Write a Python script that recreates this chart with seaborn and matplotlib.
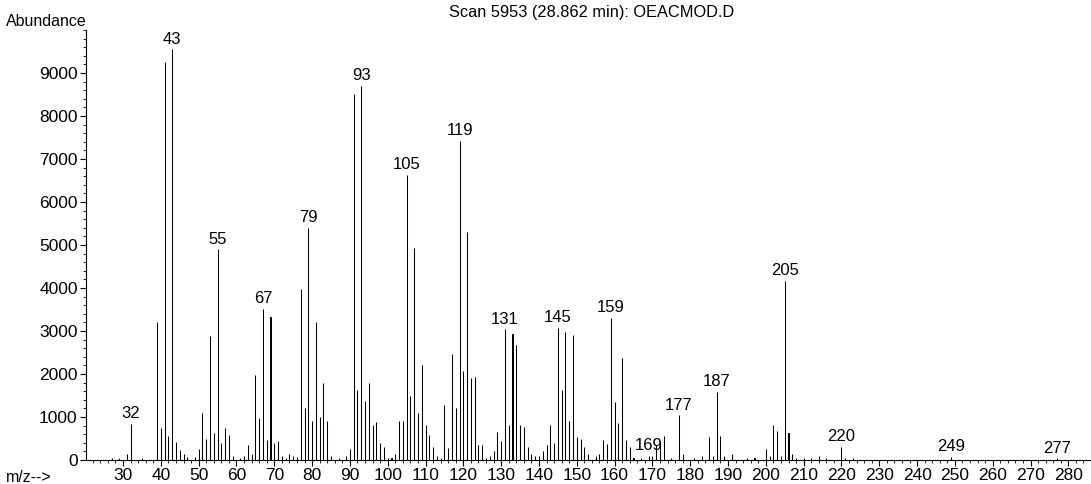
import matplotlib
matplotlib.use("Agg")
import matplotlib.pyplot as plt
from matplotlib.ticker import MultipleLocator
import seaborn as sns
import pandas as pd

# ---- data ----
mz = [27, 29, 31, 32, 35, 39, 40, 41, 42, 43, 44, 45, 46, 47, 49, 50, 51, 52, 53, 54,
      55, 56, 57, 58, 59, 61, 62, 63, 64, 65, 66, 67, 68, 69, 70, 71, 72, 73, 74, 75,
      76, 77, 78, 79, 80, 81, 82, 83, 84, 85, 87, 89, 90, 91, 92, 93, 94, 95, 96, 97,
      98, 99, 100, 101, 102, 103, 104, 105, 106, 107, 108, 109, 110, 111, 112, 113, 114, 115, 116, 117,
      118, 119, 120, 121, 122, 123, 124, 125, 126, 127, 128, 129, 130, 131, 132, 133, 134, 135, 136, 137,
      138, 139, 140, 141, 142, 143, 144, 145, 146, 147, 148, 149, 150, 151, 152, 153, 155, 156, 157, 158,
      159, 160, 161, 162, 163, 164, 165, 167, 169, 170, 171, 172, 173, 175, 177, 178, 181, 183, 185, 186,
      187, 188, 189, 191, 195, 197, 200, 201, 202, 203, 204, 205, 206, 207, 208, 210, 212, 214, 216, 220,
      221, 223, 249, 277]
abundance = [50, 40, 150, 840, 40, 3200, 750, 9250, 560, 9550, 420, 240, 150, 60, 60, 250, 1100, 500, 2880, 630,
             4900, 400, 750, 580, 100, 50, 100, 350, 150, 1980, 980, 3510, 460, 3330, 400, 450, 100, 50, 130, 100,
             60, 3970, 1200, 5400, 900, 3200, 1000, 1800, 900, 100, 50, 100, 250, 8500, 1630, 8700, 1370, 1800, 810, 880,
             400, 300, 50, 50, 150, 900, 900, 6630, 1500, 4930, 1100, 2200, 810, 580, 300, 100, 50, 1280, 290, 2460,
             1200, 7420, 2070, 5300, 1900, 1930, 350, 350, 50, 100, 200, 650, 450, 3040, 810, 2930, 2670, 810, 760, 310,
             150, 100, 100, 200, 350, 810, 400, 3070, 1630, 2980, 900, 2900, 530, 500, 300, 150, 100, 130, 460, 370,
             3300, 1350, 850, 2370, 470, 300, 50, 50, 100, 100, 350, 350, 560, 50, 1040, 150, 50, 100, 530, 100,
             1590, 560, 100, 150, 50, 50, 250, 100, 810, 670, 100, 4160, 630, 150, 50, 50, 50, 100, 50, 300,
             50, 50, 80, 40]
labelled_peaks = [32, 43, 55, 67, 79, 93, 105, 119, 131, 145, 159, 169, 177, 187, 205, 220, 249, 277]
y_ticks = [0, 1000, 2000, 3000, 4000, 5000, 6000, 7000, 8000, 9000]
x_ticks = list(range(30, 281, 10))
title_text = "Scan 5953 (28.862 min): OEACMOD.D"

df = pd.DataFrame({"mz": mz, "abundance": abundance})

sns.set_theme(style="ticks")
plt.rcParams["font.family"] = ["Liberation Sans", "DejaVu Sans"]
plt.rcParams["text.color"] = "black"
plt.rcParams["xtick.color"] = "black"
plt.rcParams["ytick.color"] = "black"
plt.rcParams["xtick.labelcolor"] = "black"
plt.rcParams["ytick.labelcolor"] = "black"

fig = plt.figure(figsize=(10.91, 4.84), dpi=100)
ax = fig.add_axes([86 / 1091, 24 / 484, 1 - 86 / 1091, (460 - 30) / 484])

sns.barplot(data=df, x="mz", y="abundance", native_scale=True, width=0.01,
            color="black", edgecolor="black", linewidth=0.75, errorbar=None, ax=ax)

ax.set_xlim(20.2, 286)
ax.set_ylim(0, 10000)
ax.set_xticks(x_ticks)
ax.set_xticklabels([str(t) for t in x_ticks])
ax.set_yticks(y_ticks)
ax.set_yticklabels([str(t) for t in y_ticks])
ax.xaxis.set_minor_locator(MultipleLocator(2))
ax.yaxis.set_minor_locator(MultipleLocator(200))
ax.tick_params(axis="both", which="major", labelsize=12.5, length=4, width=0.8,
               color="black", labelcolor="black", pad=2)
ax.tick_params(axis="both", which="minor", length=2, width=0.6, color="black")
ax.set_xlabel("")
ax.set_ylabel("")
for s in ["top", "right"]:
    ax.spines[s].set_visible(False)
for s in ["left", "bottom"]:
    ax.spines[s].set_color("black")
    ax.spines[s].set_linewidth(0.8)

ab_map = dict(zip(mz, abundance))
for p in labelled_peaks:
    ax.annotate(str(p), xy=(p, ab_map[p]), xytext=(0, 2), textcoords="offset points",
                ha="center", va="bottom", fontsize=12, color="black")

fig.text(87 / 1091, 1 - 22 / 484, "Abundance", ha="right", va="center", fontsize=11.5, color="black")
fig.text(52 / 1091, 1 - 477 / 484, "m/z-->", ha="right", va="center", fontsize=11.5, color="black")
fig.text(592 / 1091, 1 - 13 / 484, title_text, ha="center", va="center", fontsize=11.8, color="black")

fig.savefig("out.png", dpi=100, facecolor="white")
